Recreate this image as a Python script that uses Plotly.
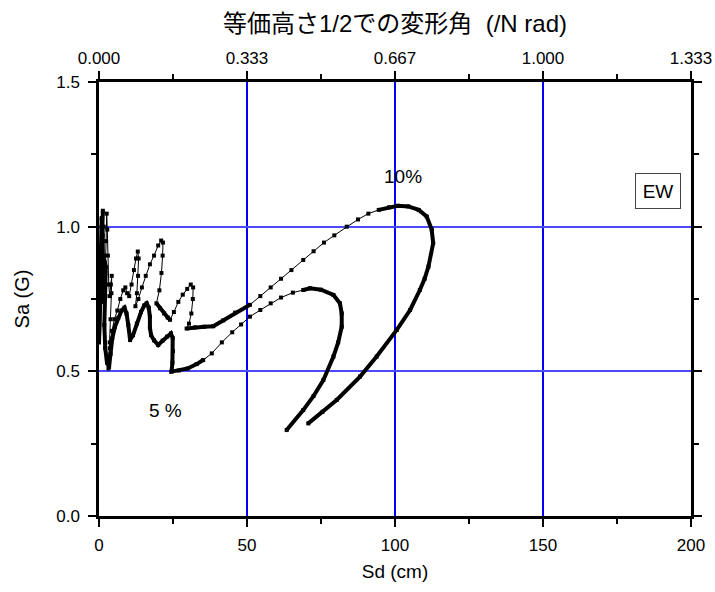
import plotly.graph_objects as go

# ---- data ----
# outer curve (labelled 10%)
sd_10 = [
    0.0, 0.3, 0.6, 0.9, 1.3, 1.6, 1.8, 2.1, 2.4, 2.6,
    2.8, 3.0, 3.3, 3.6, 4.0, 4.3, 4.2, 3.9, 3.6, 3.3,
    3.2, 3.7, 4.4, 5.2, 6.2, 7.2, 8.2, 8.9, 9.5, 10.2,
    11.0, 11.8, 12.5, 13.1, 13.4, 13.2, 12.8, 12.3, 13.3, 14.5,
    15.8, 17.2, 18.6, 20.0, 21.0, 21.6, 21.5, 21.1, 20.4, 19.4,
    20.6, 22.0, 23.2, 24.0, 25.3, 26.8, 28.3, 29.8, 31.0, 31.8,
    31.7, 31.2, 30.4, 29.6, 32.5, 35.5, 38.6, 42.0, 46.0, 51.0,
    54.5, 58.0, 61.5, 65.0, 69.0, 72.5, 76.0, 79.5, 83.7, 87.5,
    91.0, 94.5, 98.0, 101.0, 104.5, 108.0, 110.7, 112.4, 112.9, 111.3,
    110.0, 108.4, 105.1, 100.6, 93.8, 88.2, 80.3, 75.5, 70.7,
]
sa_10 = [
    0.60, 0.72, 0.88, 1.00, 1.055, 1.00, 0.90, 0.84, 0.95, 1.045,
    0.99, 0.90, 0.80, 0.76, 0.80, 0.83, 0.77, 0.68, 0.60, 0.53,
    0.51, 0.58, 0.64, 0.68, 0.71, 0.75, 0.78, 0.79, 0.77, 0.76,
    0.80, 0.85, 0.89, 0.914, 0.89, 0.83, 0.77, 0.725, 0.75, 0.79,
    0.83, 0.87, 0.90, 0.935, 0.952, 0.945, 0.90, 0.84, 0.78, 0.735,
    0.718, 0.700, 0.686, 0.678, 0.705, 0.74, 0.765, 0.785, 0.80, 0.79,
    0.75, 0.70, 0.665, 0.648, 0.652, 0.654, 0.656, 0.676, 0.703, 0.730,
    0.760, 0.790, 0.820, 0.850, 0.885, 0.915, 0.945, 0.970, 1.000, 1.025,
    1.045, 1.058, 1.067, 1.072, 1.070, 1.058, 1.035, 0.99, 0.943, 0.862,
    0.82, 0.781, 0.712, 0.643, 0.551, 0.482, 0.401, 0.360, 0.320,
]

# inner curve (labelled 5 %)
sd_5 = [
    0.0, 0.3, 0.6, 0.9, 1.2, 1.1, 0.9, 1.4, 1.9, 2.3,
    2.1, 1.8, 2.1, 2.7, 3.4, 3.9, 4.5, 5.4, 6.5, 7.6,
    8.6, 9.3, 9.9, 10.5, 11.5, 12.8, 14.2, 15.3, 16.1, 16.8,
    17.2, 17.2, 17.6, 18.6, 20.0, 21.5, 23.0, 24.3, 24.9, 25.0,
    24.8, 24.5, 27.0, 30.0, 33.0, 35.2, 38.1, 41.5, 45.0, 48.0,
    51.0, 54.5, 58.0, 61.5, 65.5, 69.0, 71.3, 75.0, 79.2, 81.4,
    82.0, 82.0, 80.8, 79.2, 75.8, 72.5, 69.0, 63.4,
]
sa_5 = [
    0.62, 0.78, 0.93, 1.03, 0.97, 0.85, 0.74, 0.80, 0.88, 0.86,
    0.76, 0.66, 0.58, 0.53, 0.515, 0.56, 0.615, 0.654, 0.685, 0.71,
    0.72, 0.70, 0.66, 0.608, 0.625, 0.665, 0.705, 0.728, 0.735, 0.72,
    0.689, 0.650, 0.625, 0.607, 0.591, 0.606, 0.62, 0.631, 0.615, 0.57,
    0.53, 0.499, 0.503, 0.51, 0.525, 0.539, 0.562, 0.60, 0.635, 0.662,
    0.689, 0.712, 0.735, 0.755, 0.772, 0.781, 0.787, 0.782, 0.764, 0.735,
    0.700, 0.654, 0.60, 0.551, 0.470, 0.415, 0.366, 0.297,
]

sd_ticks = [0, 50, 100, 150, 200]
sd_minor = [25, 75, 125, 175]
angle_labels = ["0.000", "0.333", "0.667", "1.000", "1.333"]
sa_ticks = [0.0, 0.5, 1.0, 1.5]
sa_minor = [0.25, 0.75, 1.25]

label_10 = "10%"
label_5 = "5 %"
label_dir = "EW"

# ---- styling (index ranges where the original markers are packed densely) ----
dense_10 = [(0, 4), (49, 53), (63, 69), (81, 98)]
dense_5 = [(0, 45), (55, 67)]

fig = go.Figure()


def add_curve(xs, ys, dense, name):
    fig.add_trace(go.Scatter(
        x=xs, y=ys, mode="lines+markers", name=name,
        line=dict(color="black", width=1),
        marker=dict(symbol="square", size=4, color="black"),
        hoverinfo="skip",
    ))
    for a, b in dense:
        fig.add_trace(go.Scatter(
            x=xs[a:b + 1], y=ys[a:b + 1], mode="lines",
            line=dict(color="black", width=4),
            hoverinfo="skip", name=name,
        ))


add_curve(sd_10, sa_10, dense_10, label_10)
add_curve(sd_5, sa_5, dense_5, label_5)

# hidden trace to activate the top axis
fig.add_trace(go.Scatter(x=sd_ticks, y=[None] * len(sd_ticks), xaxis="x2",
                         mode="markers", hoverinfo="skip", showlegend=False))

FONT = "Liberation Sans, Arial, Noto Sans CJK JP, sans-serif"
tick_common = dict(
    showline=True, linecolor="black", linewidth=2.5,
    ticks="outside", ticklen=8, tickwidth=2, tickcolor="black",
    zeroline=False, tickfont=dict(size=17, color="black"),
    automargin=False,
)
minor_common = dict(ticks="outside", ticklen=5, tickwidth=2,
                    tickcolor="black", showgrid=False)

fig.update_layout(
    width=715, height=592,
    margin=dict(l=99, r=24, t=82, b=76),
    paper_bgcolor="white", plot_bgcolor="white",
    showlegend=False,
    font=dict(family=FONT, size=17, color="black"),
    xaxis=dict(
        range=[0, 200], tickvals=sd_ticks, ticklabelstandoff=4,
        showgrid=True, gridcolor="#0000ff", gridwidth=1.5,
        minor=dict(tickvals=sd_minor, **minor_common),
        title=dict(text="Sd (cm)", font=dict(size=19), standoff=11),
        **tick_common,
    ),
    xaxis2=dict(
        overlaying="x", side="top", range=[0, 200], ticklabelstandoff=0,
        tickvals=sd_ticks, ticktext=angle_labels, showgrid=False,
        minor=dict(tickvals=sd_minor, **minor_common),
        title=dict(text="等価高さ1/2での変形角  (/N rad)",
                   font=dict(size=24, family="Liberation Sans, Noto Sans CJK JP"),
                   standoff=11),
        **tick_common,
    ),
    yaxis=dict(
        range=[0, 1.5], tickvals=sa_ticks, tickformat=".1f", mirror="ticks",
        ticklabelstandoff=5,
        showgrid=True, gridcolor="#4a4aff", gridwidth=1.5,
        minor=dict(tickvals=sa_minor, **minor_common),
        title=dict(text="Sa (G)", font=dict(size=20), standoff=22),
        **tick_common,
    ),
    annotations=[
        dict(x=102.7, y=1.175, xref="x", yref="y", text=label_10, showarrow=False,
             font=dict(size=19)),
        dict(x=22.6, y=0.366, xref="x", yref="y", text=label_5, showarrow=False,
             font=dict(size=19)),
        dict(x=188.7, y=1.125, xref="x", yref="y", text=label_dir, showarrow=False,
             font=dict(size=19), bordercolor="#444444", borderwidth=1,
             width=38, height=28, borderpad=3, bgcolor="white"),
    ],
)

fig.write_html("out.html",
               config={"displayModeBar": False},
               post_script="document.body.style.margin='0px';"
                           "document.body.style.overflow='hidden';")
